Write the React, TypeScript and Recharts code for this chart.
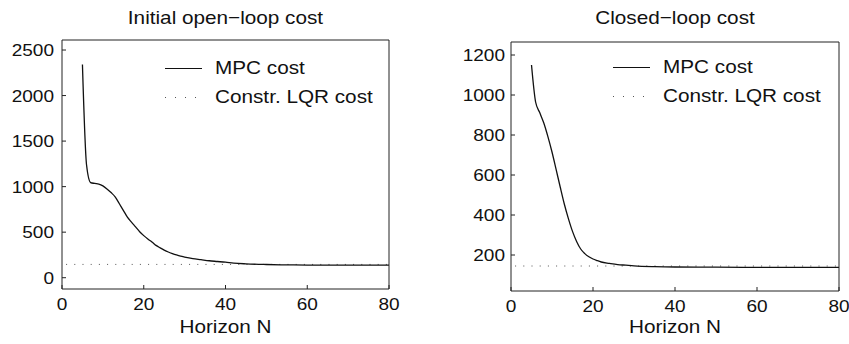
import { Legend, Line, LineChart, XAxis, YAxis } from "recharts"

const FONT = '"Liberation Sans", Arial, Helvetica, sans-serif'
const STRETCH = 1.12
const INK = "#111"

const horizonTicks = [0, 20, 40, 60, 80]
const lqrHorizon = [1, 80]

// Initial open-loop cost
const openLoopHorizon = [
  5, 6, 7, 8, 9, 10, 11, 12, 13, 14, 15, 16, 17, 18, 19, 20, 21, 22, 23, 24,
  25, 26, 27, 28, 29, 30, 32, 34, 36, 38, 40, 42, 45, 50, 55, 60, 70, 80,
]
const openLoopCost = [
  2340, 1240, 1045, 1035, 1028, 1008, 975, 935, 888, 815, 740, 665, 610, 558,
  505, 462, 425, 392, 355, 328, 303, 282, 265, 250, 237, 227, 210, 198, 186,
  178, 170, 160, 152, 145, 141, 139, 138, 138,
]
const openLoopLqr = 146
const openLoopTicks = [0, 500, 1000, 1500, 2000, 2500]

// Closed-loop cost
const closedLoopHorizon = [
  5, 6, 7, 8, 9, 10, 11, 12, 13, 14, 15, 16, 17, 18, 19, 20, 21, 22, 24, 26,
  28, 30, 35, 40, 50, 60, 80,
]
const closedLoopCost = [
  1150, 965, 912, 860, 792, 715, 628, 540, 455, 382, 318, 268, 230, 207, 191,
  180, 172, 165, 158, 152, 149, 146, 142, 140, 139, 138, 138,
]
const closedLoopLqr = 145
const closedLoopTicks = [200, 400, 600, 800, 1000, 1200]

const legendOrder = ["MPC cost", "Constr. LQR cost"]

type TickProps = { x?: number; y?: number; payload?: { value: number } }

const YTick = ({ x, y, payload }: TickProps) => (
  <text
    transform={`translate(${x},${y}) scale(${STRETCH},1)`}
    textAnchor="end"
    dy="0.36em"
    fontSize={17}
    fontFamily={FONT}
    fill={INK}
  >
    {payload?.value}
  </text>
)

const XTick = ({ x, y, payload }: TickProps) => (
  <text
    transform={`translate(${x},${y}) scale(${STRETCH},1)`}
    textAnchor="middle"
    dy="0.72em"
    fontSize={17}
    fontFamily={FONT}
    fill={INK}
  >
    {payload?.value}
  </text>
)

const CostLegend = ({ payload }: { payload?: any[] }) => {
  const items = [...(payload ?? [])].sort(
    (a, b) => legendOrder.indexOf(a.value) - legendOrder.indexOf(b.value)
  )
  return (
    <div>
      {items.map((item) => {
        const dotted = item.value !== "MPC cost"
        return (
          <div
            key={item.value}
            style={{ display: "flex", alignItems: "center", height: 29 }}
          >
            <svg width={37} height={29} style={{ display: "block" }}>
              <line
                x1={0}
                x2={37}
                y1={14.5}
                y2={14.5}
                stroke={dotted ? "#555" : INK}
                strokeWidth={dotted ? 1 : 1.2}
                strokeDasharray={dotted ? "1 9" : undefined}
              />
            </svg>
            <span
              style={{
                marginLeft: 13,
                fontSize: 18.5,
                fontFamily: FONT,
                color: INK,
                whiteSpace: "nowrap",
                display: "inline-block",
                transform: `scaleX(${STRETCH})`,
                transformOrigin: "left center",
              }}
            >
              {item.value}
            </span>
          </div>
        )
      })}
    </div>
  )
}

type PanelProps = {
  left: number
  width: number
  margin: { top: number; right: number; bottom: number; left: number }
  title: string
  horizon: number[]
  cost: number[]
  lqr: number
  yDomain: [number, number]
  yTicks: number[]
  yTickMargin: number
  legendPos: { left: number; top: number }
}

const HEIGHT = 344
const AXIS = 10

const CostPanel = ({
  left,
  width,
  margin,
  title,
  horizon,
  cost,
  lqr,
  yDomain,
  yTicks,
  yTickMargin,
  legendPos,
}: PanelProps) => {
  const mpcData = horizon.map((n, i) => ({ n, cost: cost[i] }))
  const lqrData = lqrHorizon.map((n) => ({ n, cost: lqr }))
  const plotLeft = margin.left + AXIS
  const plotWidth = width - margin.left - margin.right - 2 * AXIS

  const textStyle = {
    position: "absolute" as const,
    left: plotLeft,
    width: plotWidth,
    height: 20,
    lineHeight: "20px",
    textAlign: "center" as const,
    fontSize: 18.5,
    fontFamily: FONT,
    color: INK,
    whiteSpace: "nowrap" as const,
    transform: `scaleX(${STRETCH})`,
  }

  return (
    <div
      style={{ position: "absolute", left, top: 0, width, height: HEIGHT }}
    >
      <LineChart width={width} height={HEIGHT} margin={margin}>
        <XAxis
          xAxisId="n"
          dataKey="n"
          type="number"
          domain={[0, 80]}
          ticks={horizonTicks}
          allowDataOverflow
          height={AXIS}
          tickSize={-4}
          tickMargin={13}
          tick={<XTick />}
          axisLine={{ stroke: "#222" }}
          tickLine={{ stroke: "#222" }}
        />
        <XAxis
          xAxisId="nTop"
          orientation="top"
          type="number"
          domain={[0, 80]}
          ticks={horizonTicks}
          allowDataOverflow
          height={AXIS}
          tickSize={-4}
          tick={false}
          axisLine={{ stroke: "#222" }}
          tickLine={{ stroke: "#222" }}
        />
        <YAxis
          yAxisId="cost"
          type="number"
          domain={yDomain}
          ticks={yTicks}
          allowDataOverflow
          width={AXIS}
          tickSize={-4}
          tickMargin={yTickMargin}
          tick={<YTick />}
          axisLine={{ stroke: "#222" }}
          tickLine={{ stroke: "#222" }}
        />
        <YAxis
          yAxisId="costR"
          orientation="right"
          type="number"
          domain={yDomain}
          ticks={yTicks}
          allowDataOverflow
          width={AXIS}
          tickSize={-4}
          tick={false}
          axisLine={{ stroke: "#222" }}
          tickLine={{ stroke: "#222" }}
        />
        <Line
          xAxisId="n"
          yAxisId="cost"
          data={lqrData}
          dataKey="cost"
          name="Constr. LQR cost"
          type="linear"
          stroke="#555"
          strokeWidth={1}
          strokeDasharray="1 7.2"
          dot={false}
          activeDot={false}
          isAnimationActive={false}
        />
        <Line
          xAxisId="n"
          yAxisId="cost"
          data={mpcData}
          dataKey="cost"
          name="MPC cost"
          type="monotone"
          stroke={INK}
          strokeWidth={1.3}
          dot={false}
          activeDot={false}
          isAnimationActive={false}
        />
        <Legend
          layout="horizontal"
          verticalAlign="middle"
          align="center"
          content={<CostLegend />}
          wrapperStyle={{
            position: "absolute",
            left: legendPos.left,
            top: legendPos.top,
            width: "auto",
          }}
        />
      </LineChart>
      <div style={{ ...textStyle, top: 8 }}>{title}</div>
      <div style={{ ...textStyle, top: 317 }}>Horizon N</div>
    </div>
  )
}

export default function App() {
  return (
    <div
      style={{
        position: "absolute",
        left: 0,
        top: 0,
        width: 849,
        height: HEIGHT,
        background: "#fff",
        overflow: "hidden",
      }}
    >
      <CostPanel
        left={0}
        width={420}
        margin={{ top: 30, right: 21, bottom: 45, left: 52 }}
        title="Initial open−loop cost"
        horizon={openLoopHorizon}
        cost={openLoopCost}
        lqr={openLoopLqr}
        yDomain={[-124, 2610]}
        yTicks={openLoopTicks}
        yTickMargin={12}
        legendPos={{ left: 165, top: 53.5 }}
      />
      <CostPanel
        left={420}
        width={429}
        margin={{ top: 32, right: 0, bottom: 43, left: 81 }}
        title="Closed−loop cost"
        horizon={closedLoopHorizon}
        cost={closedLoopCost}
        lqr={closedLoopLqr}
        yDomain={[20, 1265]}
        yTicks={closedLoopTicks}
        yTickMargin={10}
        legendPos={{ left: 193, top: 52.5 }}
      />
    </div>
  )
}
